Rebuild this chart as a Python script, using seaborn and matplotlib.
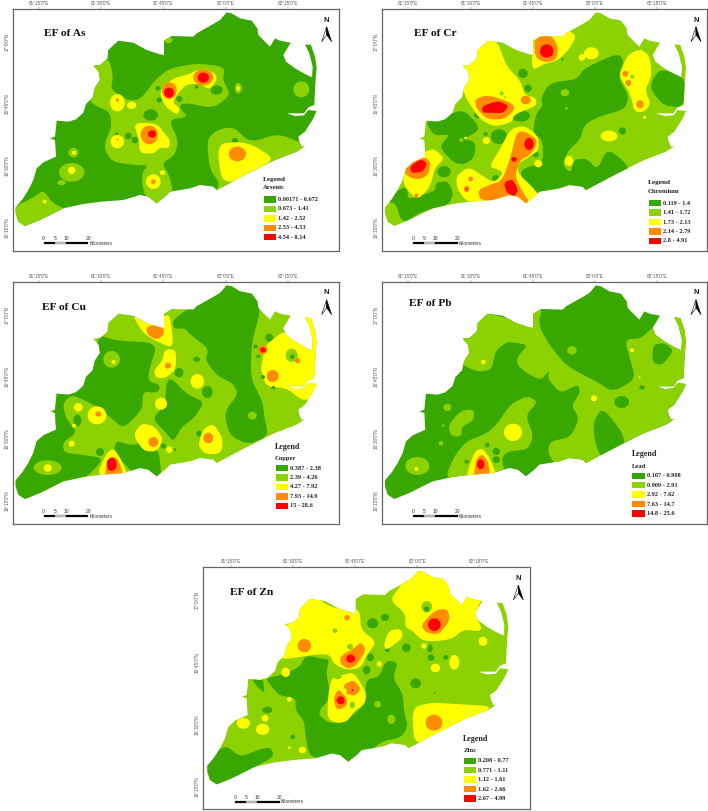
import numpy as np
import matplotlib
matplotlib.use("Agg")
import matplotlib.pyplot as plt
from matplotlib.colors import ListedColormap
from matplotlib.patches import Polygon
import seaborn as sns

sns.set_theme(style="white")
plt.rcParams['font.family'] = ['Liberation Serif', 'DejaVu Serif']

CLASS_COLORS = ["#38A800", "#8CD100", "#FFFF00", "#FF8C00", "#FF0000"]
LON_TICKS = [81.25, 81.5, 81.75, 82.0, 82.25]
LON_LABELS = ["81°15'0\"E", "81°30'0\"E", "81°45'0\"E", "82°0'0\"E", "82°15'0\"E"]
LAT_TICKS = [17.0, 16.75, 16.5, 16.25]
LAT_LABELS = ["17°0'0\"N", "16°45'0\"N", "16°30'0\"N", "16°15'0\"N"]

# District outline, map-grid units (1 unit = 1/746 degree)
OUTLINE = [47,622,68,597,85,570,100,540,110,505,130,487,168,470,165,420,150,415,165,410,170,362,205,365,228,358,250,338,258,312,
           278,292,285,262,300,240,296,215,280,197,300,195,322,176,325,150,355,122,400,128,440,150,480,163,492,165,
           492,122,515,108,580,110,590,100,640,72,660,60,680,37,695,40,720,55,755,62,772,85,775,105,810,140,825,115,
           840,122,872,128,850,165,858,185,885,205,915,222,936,232,938,200,928,160,915,133,933,135,945,170,950,205,
           947,235,945,270,943,315,925,322,912,340,885,340,860,340,885,348,912,346,925,330,950,333,940,355,915,395,
           895,410,898,425,905,440,915,438,890,455,820,482,735,525,650,570,640,560,600,555,570,565,510,575,495,590,
           470,610,445,590,420,585,370,600,305,605,250,612,190,625,150,645,120,660,75,678,55,665,47,640]

# Each layer: (class, cx, cy, rx, ry) or (class, [x, y, x, y, ...])
AS_BASE = 0
AS_LAYERS = [
 (1,[270,205,325,170,340,230,332,268,380,300,420,300,470,235,510,205,590,190,675,200,668,240,692,285,640,325,555,308,535,320,565,352,505,358,535,420,525,465,485,490,510,530,520,585,470,625,430,580,425,520,445,495,400,495,335,485,310,440,335,380,330,335,270,310,255,250]),
 (1,215,517,38,28),(1,220,458,15,14),(1,185,548,12,8),(1,904,268,24,24),(1,715,265,11,16),(1,505,120,12,10),
 (1,[35,625,105,590,130,570,160,612,210,632,120,675,70,695,35,675]),
 (1,[620,420,650,390,700,380,750,428,830,402,880,418,930,445,820,495,640,585,660,550,630,510]),
 (0,452,345,22,17),(0,478,300,8,8),(0,474,265,8,7),(0,538,297,9,9),(0,650,270,18,14),(0,385,408,10,10),(0,405,420,10,10),
 (0,705,423,9,9),(0,590,260,6,6),(0,350,402,5,5),(0,485,395,6,6),(0,268,370,4,4),
 (2,[487,262,520,235,570,222,590,210,622,207,655,230,630,270,600,252,560,252,532,282,518,308,540,325,532,345,498,322,480,285]),
 (2,[400,368,470,370,498,405,510,420,508,445,480,442,460,462,418,458,418,420]),
 (2,352,308,22,26),(2,395,316,14,11),(2,352,425,20,20),(2,460,545,22,22),(2,488,518,8,7),(2,215,511,11,11),(2,222,458,6,6),(2,134,605,6,6),(2,715,265,4,8),
 (2,[650,432,720,425,765,438,830,482,668,565]),
 (3,508,272,22,25),(3,610,232,30,24),(3,448,405,26,28),(3,712,462,26,22),(3,352,300,5,5),(3,353,418,3,3),(3,460,545,7,7),
 (4,507,278,15,15),(4,610,233,17,15),(4,456,402,12,11),
]
CR_BASE = 1
CR_LAYERS = [
 (0,[100,605,130,570,160,560,162,598,195,588,245,572,245,548,282,543,298,580,285,615,200,635,145,672,125,610]),
 (0,270,515,20,17),
 (0,[213,362,270,348,330,328,380,385,345,410,322,416,365,425,362,472,330,494,298,488,255,440,290,402,240,408]),
 (0,[562,290,588,248,670,238,690,205,790,160,810,180,792,230,825,290,812,328,740,348,692,372,678,420,642,452,625,495,650,520,660,478,700,476,730,510,760,445,815,488,825,512,700,582,640,555,600,580,555,582,508,558,498,508,568,488,566,420,536,400,546,340,566,320]),
 (0,[892,245,920,205,995,232,990,322,930,318,892,272]),
 (0,507,220,14,14),(0,522,265,11,11),(0,418,255,12,12),(0,500,348,28,17),(0,435,410,25,22),(0,370,345,10,10),(0,395,402,6,6),(0,425,535,10,10),
 (0,507,545,9,9),(0,545,463,9,9),(0,320,575,6,6),(0,625,178,4,4),(0,570,328,10,10),(0,805,393,11,11),
 (1,633,278,13,11),(1,637,325,4,4),(1,322,420,6,6),
 (2,[315,210,400,115,432,128,458,200,498,240,512,285,545,293,548,318,482,342,472,368,420,380,378,358,332,290,325,240]),
 (2,[532,182,545,105,600,102,642,90,668,108,642,152,610,182,570,192,538,210]),
 (2,712,160,22,18),(2,684,172,10,10),
 (2,[797,225,820,165,860,146,888,170,893,230,873,270,890,310,873,334,843,338,828,280,802,240]),
 (2,[405,500,438,448,468,388,510,376,553,408,554,452,522,472,492,492,492,520,532,558,560,592,525,618,470,612,375,612,338,604,310,570,306,528,345,500,385,528,420,548,448,520,436,510]),
 (2,[146,525,208,456,240,446,272,475,243,502,228,562,190,600,152,562]),
 (2,397,422,11,10),(2,553,491,12,11),(2,645,483,13,15),(2,765,408,25,16),(2,872,352,5,5),(2,335,413,4,3),
 (1,443,280,6,6),(1,835,230,6,6),(1,453,292,3,3),
 (3,[542,112,592,105,613,140,608,178,575,188,542,172]),
 (3,[362,298,400,284,472,308,484,326,452,358,400,358,368,327]),
 (3,515,300,15,13),
 (3,[372,570,410,553,443,543,468,478,488,396,512,394,553,420,533,462,497,482,483,530,503,570,530,612,480,606,378,602]),
 (3,[147,520,185,477,216,472,231,490,222,528,185,540]),
 (3,814,221,9,9),(3,823,249,9,9),(3,858,313,11,12),(3,350,537,7,7),(3,338,567,8,10),(3,187,586,6,6),
 (4,578,153,20,20),
 (4,[383,320,430,302,465,317,447,340,410,338,386,338]),
 (4,525,432,14,18),(4,480,478,8,7),
 (4,[449,548,476,537,493,570,482,590,458,578]),
 (4,[167,500,200,477,220,490,207,515,173,520]),
 (4,338,567,3,3),
]
CU_BASE = 1
CU_LAYERS = [
 (0,[517,175,570,136,640,96,680,50,785,80,778,160,758,230,753,280,753,350,788,420,794,470,805,522,745,548,688,520,672,450,716,395,696,362,652,342,616,295,626,260,576,222,552,198,522,202]),
 (0,[296,218,345,236,474,242,448,320,444,357,482,370,472,393,428,388,428,442,370,500,338,472,298,438,260,418,215,398,188,425,198,470,232,510,188,542,192,572,240,578,315,588,250,655,130,695,70,730,30,655,95,535,160,480,160,385,225,380,252,340,275,315]),
 (0,[512,346,562,398,614,420,582,468,546,494,520,540,498,512,456,470,497,428,497,368]),
 (0,[348,536,400,552,440,531,478,568,485,660,410,650,380,612,342,572]),
 (0,537,332,13,14),(0,590,292,10,8),(0,622,390,16,18),(0,232,475,12,18),(0,300,570,12,12),(0,808,227,12,12),
 (0,598,515,9,9),(0,490,552,8,8),(0,525,563,4,4),(0,355,545,6,6),
 (1,335,292,25,25),(1,143,617,42,22),(1,757,461,13,12),
 (2,[787,300,792,255,850,206,882,228,905,150,965,190,965,280,955,320,970,375,915,422,860,378,798,374,782,320]),
 (1,875,280,18,20),(0,877,284,7,7),(0,767,254,7,6),(0,775,283,6,5),(0,820,377,6,5),(0,789,345,6,6),
 (2,[396,158,440,186,495,160,510,160,522,260,470,238,428,212]),
 (2,[494,262,528,262,528,322,497,348,468,348,462,325,488,295]),
 (2,592,358,20,22),(2,483,425,18,18),(2,235,436,13,13),(2,291,460,28,27),(2,215,545,9,9),(2,222,491,6,6),(2,143,618,12,11),(2,341,300,6,6),
 (2,[404,510,425,484,462,492,490,530,472,568,433,568,406,532]),
 (2,[594,552,608,502,640,484,669,530,664,574,618,578]),
 (2,508,563,9,10),
 (2,[290,640,318,576,340,558,362,590,385,645,345,645]),
 (3,[438,193,487,186,494,217,470,234,442,218]),
 (3,504,311,9,9),(3,295,456,9,8),(3,460,540,15,15),(3,625,528,15,16),(3,818,342,18,18),(3,788,263,14,14),(3,893,296,8,8),
 (3,[312,640,328,586,352,586,372,640,340,650]),
 (4,789,264,8,8),(4,335,607,15,20),
]
PB_BASE = 0
PB_LAYERS = [
 (1,[315,230,385,150,450,166,532,192,530,130,565,130,553,190,588,252,640,314,730,360,776,390,845,352,828,290,812,232,860,230,888,203,960,150,1020,200,1020,370,960,480,810,540,800,565,745,600,690,620,600,605,582,570,588,538,650,526,676,470,652,430,676,398,676,374,665,370,620,394,582,352,586,325,560,355,518,333,490,310,490,285,520,250,498,244,460,239,424,266,414,322,375,330,332,313,315,290]),
 (0,[895,302,897,248,930,242,960,265,925,310]),
 (0,803,420,22,18),(0,864,376,8,6),
 (0,[718,480,745,436,803,508,815,550,745,595,722,540]),
 (1,[272,650,303,578,340,536,395,516,428,488,468,428,520,401,552,420,514,460,539,520,522,563,460,568,442,590,455,640,400,640,345,655]),
 (1,[282,490,320,446,361,442,358,477,323,493,323,523,292,523]),
 (1,280,436,12,11),(1,190,612,36,27),(1,654,265,14,13),(1,261,544,7,7),(1,268,491,4,4),
 (0,427,568,11,11),(0,427,593,11,10),(0,400,549,7,7),(0,338,599,7,6),(0,358,598,5,4),(0,555,562,4,4),
 (2,388,300,7,7),(2,834,265,6,6),(2,857,346,3,3),(2,720,409,9,9),(2,477,511,27,26),(2,187,621,6,6),
 (2,[336,640,362,568,385,558,408,590,428,640,400,650,360,650]),
 (3,[358,640,368,588,385,576,403,600,408,640,380,650]),
 (4,380,607,11,15),
]
ZN_BASE = 1
ZN_LAYERS = [
 (0,[30,650,105,582,150,622,210,597,242,592,252,620,190,654,120,705,75,730]),
 (0,[226,385,270,376,328,352,348,316,395,326,418,328,408,370,424,440,380,490,420,522,478,507,527,458,527,388,568,381,588,331,624,337,608,385,638,430,643,490,654,530,632,564,572,574,512,635,470,655,420,630,358,620,347,560,342,512,317,482,317,443,270,438,247,412]),
 (0,[182,382,218,382,225,430,203,412]),
 (0,548,220,17,15),(0,585,202,12,11),(0,232,480,15,10),(0,308,561,7,7),(0,649,293,13,13),(0,592,300,7,7),
 (0,723,323,10,10),(0,767,322,8,7),(0,677,400,16,15),(0,541,322,11,12),(0,530,360,11,13),(0,734,429,3,3),
 (1,563,463,10,10),(1,604,508,12,14),
 (2,[265,300,275,245,330,170,360,130,430,176,495,175,510,188,513,240,560,275,533,312,512,354,470,360,433,343,418,313,380,313,270,330]),
 (2,[600,150,628,112,680,40,750,65,778,110,810,148,835,100,890,120,854,190,880,245,820,238,782,270,700,275,668,243,646,232,646,190]),
 (2,[411,505,416,418,428,382,455,376,492,366,530,430,524,463,492,484,472,514,440,520]),
 (2,[581,282,598,241,633,236,639,262,612,284,588,300]),
 (2,[665,473,720,458,800,462,930,470,675,605]),
 (2,287,367,13,14),(2,160,520,20,16),(2,218,538,20,17),(2,225,505,10,10),(2,298,448,7,7),(2,568,342,8,8),(2,879,274,13,14),
 (2,702,288,8,8),(2,736,354,14,13),(2,793,337,15,22),(2,337,600,11,10),(2,298,593,4,4),
 (1,710,170,16,17),(0,710,177,8,8),(1,443,378,12,10),(1,480,290,9,8),(1,435,242,7,7),(1,487,465,8,10),
 (0,720,295,8,12),
 (3,343,287,20,20),(3,471,203,8,8),(3,732,518,25,24),
 (3,[692,225,735,181,772,176,781,210,747,254,708,248]),
 (3,[449,320,495,292,515,276,528,300,502,343,475,358,452,342]),
 (3,[459,405,490,389,513,415,497,438,468,432]),
 (3,[430,445,445,416,468,440,473,467,440,482]),
 (2,462,423,8,8),
 (4,733,224,19,19),(4,482,326,13,12),(4,452,451,12,12),(4,488,420,3,3),
]

TITLES = ["EF of As", "EF of Cr", "EF of Cu", "EF of Pb", "EF of Zn"]
METALS = ["Arsenic", "Chromium", "Copper", "Lead", "Zinc"]
AS_CLASSES = ["0.00171 - 0.672", "0.673 - 1.41", "1.42 - 2.52", "2.53 - 4.53", "4.54 - 8.14"]
CR_CLASSES = ["0.119 - 1.4", "1.41 - 1.72", "1.73 - 2.13", "2.14 - 2.79", "2.8 - 4.91"]
CU_CLASSES = ["0.387 - 2.38", "2.39 - 4.26", "4.27 - 7.92", "7.93 - 14.9", "15 - 28.6"]
PB_CLASSES = ["0.107 - 0.908", "0.909 - 2.91", "2.92 - 7.62", "7.63 - 14.7", "14.8 - 25.6"]
ZN_CLASSES = ["0.208 - 0.77", "0.771 - 1.11", "1.12 - 1.61", "1.62 - 2.66", "2.67 - 4.99"]
SCALE_LABELS = ["0", "5", "10", "20"]
SCALE_KM = [0, 5, 10, 20]

W, H = 708, 811
PANELS = [
 dict(org=(0,0),     frame=(38,1017,27,752),  off=(0,0),   base=AS_BASE, layers=AS_LAYERS, classes=AS_CLASSES, title=(131,100), leg=(790,537,563,597), legsize=5.2),
 dict(org=(354,0),   frame=(83,1059,27,752),  off=(46,0),  base=CR_BASE, layers=CR_LAYERS, classes=CR_CLASSES, title=(180,100), leg=(882,548,574,608), legsize=5.2),
 dict(org=(0,262),   frame=(38,1017,60,785),  off=(0,33),  base=CU_BASE, layers=CU_LAYERS, classes=CU_CLASSES, title=(125,135), leg=(825,555,590,617), legsize=5.8),
 dict(org=(354,262), frame=(83,1059,60,785),  off=(46,33), base=PB_BASE, layers=PB_LAYERS, classes=PB_CLASSES, title=(165,125), leg=(833,577,612,640), legsize=5.8),
 dict(org=(190,550), frame=(40,1020,52,777),  off=(5,25),  base=ZN_BASE, layers=ZN_LAYERS, classes=ZN_CLASSES, title=(120,128), leg=(820,568,603,631), legsize=5.8),
]

def smooth(xy, rounds=3, r=0.2):
    p = np.asarray(xy, float).reshape(-1, 2)
    for _ in range(rounds):
        q = np.roll(p, -1, axis=0)
        p = np.column_stack([(1-r)*p + r*q, r*p + (1-r)*q]).reshape(-1, 2)
    return p

fig = plt.figure(figsize=(W/100, H/100), dpi=100, facecolor="white")
cmap = ListedColormap(CLASS_COLORS)

for idx, P in enumerate(PANELS):
    ox, oy = P["org"]; x0, x1, y0, y1 = P["frame"]; dx, dy = P["off"]
    lon = lambda x: 81.25 + (np.asarray(x, float) - dx - 117) / 746.4
    lat = lambda y: 17.0 - (np.asarray(y, float) - dy - 125) / 746.0
    def fx(x): return (ox + x/3) / W
    def fy(y): return 1 - (oy + y/3) / H
    ax = fig.add_axes([fx(x0), fy(y1), fx(x1)-fx(x0), fy(y0)-fy(y1)])
    ax.set_xlim(lon(x0), lon(x1)); ax.set_ylim(lat(y1), lat(y0))
    ax.set_facecolor("white")

    ol = np.array(OUTLINE, float).reshape(-1, 2)
    ol_xy = np.c_[lon(ol[:, 0] + dx), lat(ol[:, 1] + dy)]
    clip = Polygon(ol_xy, closed=True, transform=ax.transData, fc=CLASS_COLORS[P["base"]], ec="none", zorder=1)
    ax.add_patch(clip)
    for z, lay in enumerate(P["layers"]):
        if len(lay) == 2:
            pts = smooth(lay[1])
        else:
            t = np.linspace(0, 2*np.pi, 60)
            pts = np.c_[lay[1] + lay[3]*np.cos(t), lay[2] + lay[4]*np.sin(t)]
        h = ax.fill(lon(pts[:, 0]), lat(pts[:, 1]), color=CLASS_COLORS[lay[0]], lw=0, zorder=2 + z*0.001)[0]
        h.set_clip_path(clip)

    ax.set_xticks(LON_TICKS); ax.set_xticklabels(LON_LABELS, fontsize=3.3, color="#555555", family="Liberation Sans")
    ax.set_yticks(LAT_TICKS); ax.set_yticklabels(LAT_LABELS, fontsize=3.3, color="#555555", family="Liberation Sans", rotation=90, va="center")
    ax.xaxis.tick_top()
    ax.tick_params(axis="both", length=1.2, width=0.3, pad=1.2, color="#555555")
    for s in ax.spines.values():
        s.set_visible(True); s.set_color("#666666"); s.set_linewidth(0.9)

    # title, north arrow
    ax.text(lon(P["title"][0]), lat(P["title"][1]), TITLES[idx], fontsize=8.2, fontweight="bold", va="center", ha="left", color="#111111", zorder=5)
    ax.text(lon(980+dx), lat(60+dy), "N", fontsize=5.5, fontweight="bold", ha="center", va="center", family="Liberation Sans", color="#222222", zorder=5)
    ax.fill(lon(np.array([980,965,980])+dx), lat(np.array([80,125,105])+dy), fc="white", ec="black", lw=0.4, zorder=5)
    ax.fill(lon(np.array([980,995,980])+dx), lat(np.array([80,125,105])+dy), fc="black", ec="black", lw=0.4, zorder=5)

    # scale bar
    sx = lambda km: 131 + dx*(1 if idx != 4 else 0.8) + np.asarray(km, float)*6.7
    sy = 730 + dy
    for a, b, c in zip(SCALE_KM[:-1], SCALE_KM[1:], ["black", "#d0d0d0", "black"]):
        ax.fill(lon(sx([a, b, b, a])), lat(np.array([sy-3, sy-3, sy+3, sy+3])), fc=c, ec="#333333", lw=0.2, zorder=5)
    for km, s in zip(SCALE_KM, SCALE_LABELS):
        ax.text(lon(sx(km)), lat(sy-14), s, fontsize=3.6, ha="center", va="center", family="Liberation Sans", color="#333333", zorder=5)
    ax.text(lon(sx(20)+3), lat(sy), "Kilometers", fontsize=3.4, ha="left", va="center", family="Liberation Sans", color="#333333", zorder=5)

    # legend
    lx, ly1, ly2, sw0 = P["leg"]
    ax.text(lon(lx), lat(ly1), "Legend", fontsize=P["legsize"], fontweight="bold", ha="left", va="center", color="#222222", zorder=5)
    ax.text(lon(lx), lat(ly2), METALS[idx], fontsize=4.8, fontweight="bold", ha="left", va="center", color="#222222", zorder=5)
    top = sw0 - 14; bot = top + 5*28.2
    lax = fig.add_axes([fx(lx-4), fy(bot), fx(lx+42)-fx(lx-4), fy(top)-fy(bot)])
    sns.heatmap(np.arange(5).reshape(-1, 1), cmap=cmap, vmin=-0.5, vmax=4.5, cbar=False, ax=lax,
                linewidths=1.8, linecolor="white", xticklabels=False, yticklabels=P["classes"])
    lax.yaxis.tick_right()
    lax.tick_params(axis="y", length=0, pad=0.7, labelsize=4.5, labelrotation=0)
    for t in lax.get_yticklabels():
        t.set_fontweight("bold"); t.set_color("#222222")
    lax.patch.set_alpha(0)

fig.savefig("out.png", dpi=100, facecolor="white")
